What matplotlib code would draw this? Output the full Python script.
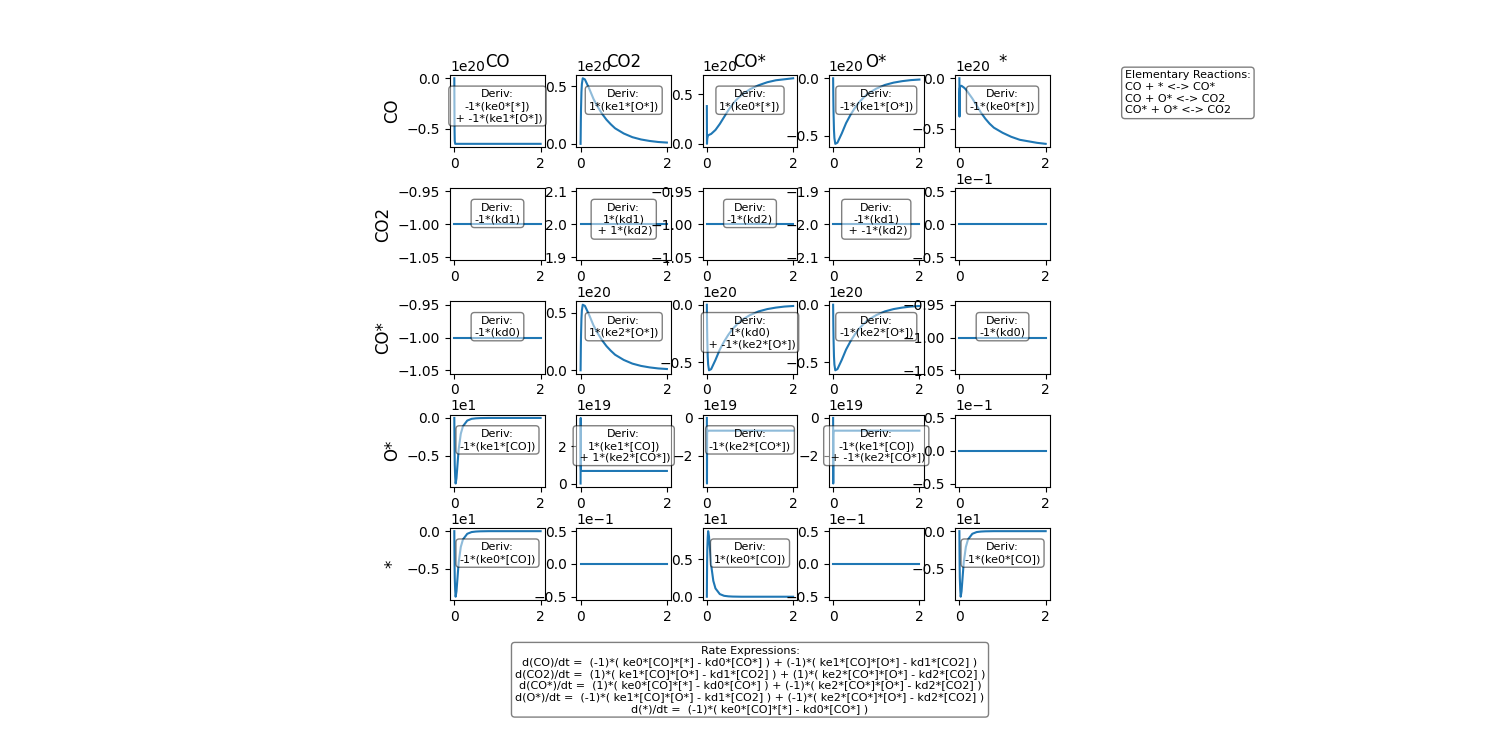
import math
import numpy as np
import matplotlib.pyplot as plt

species = ['CO', 'CO2', 'CO*', 'O*', '*']

reactions = ['CO + * <-> CO*', 'CO + O* <-> CO2', 'CO* + O* <-> CO2']

rate_lines = [
    'd(CO)/dt =  (-1)*( ke0*[CO]*[*] - kd0*[CO*] ) + (-1)*( ke1*[CO]*[O*] - kd1*[CO2] )',
    'd(CO2)/dt =  (1)*( ke1*[CO]*[O*] - kd1*[CO2] ) + (1)*( ke2*[CO*]*[O*] - kd2*[CO2] )',
    'd(CO*)/dt =  (1)*( ke0*[CO]*[*] - kd0*[CO*] ) + (-1)*( ke2*[CO*]*[O*] - kd2*[CO2] )',
    'd(O*)/dt =  (-1)*( ke1*[CO]*[O*] - kd1*[CO2] ) + (-1)*( ke2*[CO*]*[O*] - kd2*[CO2] )',
    'd(*)/dt =  (-1)*( ke0*[CO]*[*] - kd0*[CO*] )',
]

# time grid (dense near t=0 where things move fast)
t = [0, 0.003, 0.006, 0.01, 0.02, 0.03, 0.05, 0.1, 0.15, 0.2, 0.3, 0.4,
     0.5, 0.6, 0.7, 0.8, 1.0, 1.2, 1.4, 1.6, 1.8, 2.0]

# jacobian entries (scaled units, scale given in grid)
drop_e20 = [0, -0.30, -0.52, -0.62, -0.65, -0.65, -0.65, -0.65, -0.65, -0.65, -0.65,
            -0.65, -0.65, -0.65, -0.65, -0.65, -0.65, -0.65, -0.65, -0.65, -0.65, -0.65]
peak_e20 = [0, 0.10, 0.20, 0.30, 0.45, 0.52, 0.57, 0.56, 0.52, 0.48, 0.39, 0.32,
            0.26, 0.21, 0.17, 0.135, 0.09, 0.058, 0.038, 0.025, 0.016, 0.011]
dip_e20 = [0, -0.10, -0.20, -0.30, -0.45, -0.52, -0.57, -0.56, -0.52, -0.48, -0.39, -0.32,
           -0.26, -0.21, -0.17, -0.135, -0.09, -0.058, -0.038, -0.025, -0.016, -0.011]
rise_e20 = [0.38, 0.0, 0.03, 0.05, 0.075, 0.085, 0.09, 0.10, 0.12, 0.14, 0.20, 0.27,
            0.34, 0.40, 0.45, 0.49, 0.55, 0.59, 0.62, 0.64, 0.65, 0.66]
fall_e20 = [0, -0.38, -0.15, -0.10, -0.08, -0.075, -0.075, -0.09, -0.11, -0.14, -0.20, -0.27,
            -0.34, -0.40, -0.45, -0.49, -0.54, -0.58, -0.61, -0.625, -0.64, -0.65]
spike_e19 = [0, 3.5, 0.9, 0.68, 0.67, 0.67, 0.67, 0.67, 0.67, 0.67, 0.67, 0.67,
             0.67, 0.67, 0.67, 0.67, 0.67, 0.67, 0.67, 0.67, 0.67, 0.67]
neg_spike_e19 = [0, -3.45, -0.9, -0.7, -0.67, -0.67, -0.67, -0.67, -0.67, -0.67, -0.67, -0.67,
                 -0.67, -0.67, -0.67, -0.67, -0.67, -0.67, -0.67, -0.67, -0.67, -0.67]
fast_dip_e1 = [0, -0.25, -0.45, -0.62, -0.78, -0.87, -0.80, -0.42, -0.21, -0.11, -0.035, -0.012,
               -0.005, -0.002, -0.001, 0, 0, 0, 0, 0, 0, 0]
fast_peak_e1 = [0, 0.25, 0.45, 0.62, 0.78, 0.87, 0.80, 0.42, 0.21, 0.11, 0.035, 0.012,
                0.005, 0.002, 0.001, 0, 0, 0, 0, 0, 0, 0]

# constant entries
kd_m1 = -1.0
kd_p2 = 2.0
kd_m2 = -2.0
zero = 0.0

grid = [
    [(drop_e20, 1e20), (peak_e20, 1e20), (rise_e20, 1e20), (dip_e20, 1e20), (fall_e20, 1e20)],
    [kd_m1, kd_p2, kd_m1, kd_m2, zero],
    [kd_m1, (peak_e20, 1e20), (dip_e20, 1e20), (dip_e20, 1e20), kd_m1],
    [(fast_dip_e1, 1e1), (spike_e19, 1e19), (neg_spike_e19, 1e19), (neg_spike_e19, 1e19), zero],
    [(fast_dip_e1, 1e1), zero, (fast_peak_e1, 1e1), zero, (fast_dip_e1, 1e1)],
]

labels = [
    ['Deriv:\n-1*(ke0*[*])\n + -1*(ke1*[O*])', 'Deriv:\n1*(ke1*[O*])', 'Deriv:\n1*(ke0*[*])',
     'Deriv:\n-1*(ke1*[O*])', 'Deriv:\n-1*(ke0*[*])'],
    ['Deriv:\n-1*(kd1)', 'Deriv:\n1*(kd1)\n + 1*(kd2)', 'Deriv:\n-1*(kd2)',
     'Deriv:\n-1*(kd1)\n + -1*(kd2)', None],
    ['Deriv:\n-1*(kd0)', 'Deriv:\n1*(ke2*[O*])', 'Deriv:\n1*(kd0)\n + -1*(ke2*[O*])',
     'Deriv:\n-1*(ke2*[O*])', 'Deriv:\n-1*(kd0)'],
    ['Deriv:\n-1*(ke1*[CO])', 'Deriv:\n1*(ke1*[CO])\n + 1*(ke2*[CO*])', 'Deriv:\n-1*(ke2*[CO*])',
     'Deriv:\n-1*(ke1*[CO])\n + -1*(ke2*[CO*])', None],
    ['Deriv:\n-1*(ke0*[CO])', None, 'Deriv:\n1*(ke0*[CO])', None, 'Deriv:\n-1*(ke0*[CO])'],
]

box = dict(boxstyle='round', facecolor='white', alpha=0.5)

tt = np.array(t)
fig, axes = plt.subplots(5, 5, figsize=(15, 7.5))
fig.subplots_adjust(left=0.3, right=0.7, top=0.9, bottom=0.2, wspace=0.33, hspace=0.57)

for i in range(5):
    for j in range(5):
        ax = axes[i, j]
        entry = grid[i][j]
        if isinstance(entry, tuple):
            vals, scale = entry
            y = np.array(vals) * scale
        else:
            y = np.full_like(tt, entry)
        ax.plot(tt, y)

        # old-style offset: exponent taken from the largest tick the locator makes
        locs = ax.yaxis.get_major_locator().tick_values(*ax.get_ylim())
        top = np.abs(locs).max()
        oom = math.floor(math.log10(top)) if top > 0 else 0
        if oom != 0:
            ax.ticklabel_format(axis='y', style='sci', scilimits=(oom, oom))

        if labels[i][j] is not None:
            ax.text(0.5, 0.8, labels[i][j], transform=ax.transAxes, ha='center', va='top',
                    fontsize=8, bbox=box)
        if i == 0:
            ax.set_title(species[j], y=1.0)
        if j == 0:
            ax.set_ylabel(species[i], fontsize=12)

fig.text(0.75, 0.906, 'Elementary Reactions:\n' + '\n'.join(reactions), ha='left', va='top',
         fontsize=8, bbox=box)
fig.text(0.5, 0.139, 'Rate Expressions:\n' + '\n'.join(rate_lines), ha='center', va='top',
         fontsize=8, bbox=box)

plt.savefig('out.png', dpi=100)
